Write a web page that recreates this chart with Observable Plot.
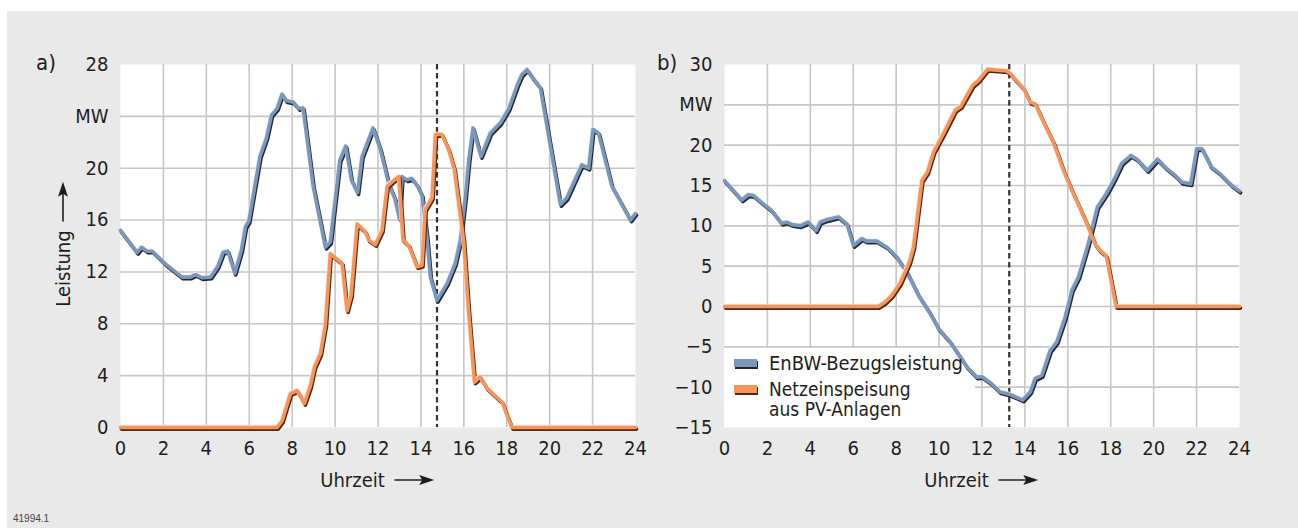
<!DOCTYPE html>
<html>
<head>
<meta charset="utf-8">
<script src="https://cdn.jsdelivr.net/npm/d3@7"></script>
<script src="https://cdn.jsdelivr.net/npm/@observablehq/plot@0.6"></script>
<style>
  html, body { margin: 0; padding: 0; }
  body { width: 1298px; height: 528px; position: relative; overflow: hidden; background: #fff;
         font-family: "Liberation Sans Narrow", "DejaVu Sans Condensed", "Roboto", sans-serif; color: #1e1e1e; }
  #bg { position: absolute; left: 7px; top: 11px; right: 0; bottom: 0; background: #e9e9e9; }
  .panel { position: absolute; top: 0; }
  .lbl { position: absolute; font-size: 20px; line-height: 20px; white-space: nowrap; }
  .axlbl { position: absolute; font-size: 20px; line-height: 20px; white-space: nowrap; display: flex; align-items: center; gap: 9px; transform: translate(-50%, -50%); }
  .sw { position: absolute; width: 23px; height: 8px; }
  .code { position: absolute; left: 13px; top: 513px; font-size: 10px; color: #444; font-family: "Liberation Sans", sans-serif; }
</style>
</head>
<body>
<div id="bg"></div>
<div id="pa" class="panel" style="left:0"></div>
<div id="pb" class="panel" style="left:649px"></div>

<div class="lbl" style="left:36px; top:52px; font-size:22px; line-height:22px;">a)</div>
<div class="lbl" style="left:657px; top:52px; font-size:22px; line-height:22px;">b)</div>

<div class="axlbl" style="left:377px; top:480px;"><span>Uhrzeit</span><svg width="40" height="12"><line x1="0" y1="6" x2="30" y2="6" stroke="#1e1e1e" stroke-width="1.6"/><path d="M25,1 L40,6 L25,11 L28,6 Z" fill="#1e1e1e"/></svg></div>
<div class="axlbl" style="left:981px; top:480px;"><span>Uhrzeit</span><svg width="40" height="12"><line x1="0" y1="6" x2="30" y2="6" stroke="#1e1e1e" stroke-width="1.6"/><path d="M25,1 L40,6 L25,11 L28,6 Z" fill="#1e1e1e"/></svg></div>
<div class="axlbl" style="left:63px; top:244px; transform: translate(-50%, -50%) rotate(-90deg);"><span>Leistung</span><svg width="40" height="12"><line x1="0" y1="6" x2="30" y2="6" stroke="#1e1e1e" stroke-width="1.6"/><path d="M25,1 L40,6 L25,11 L28,6 Z" fill="#1e1e1e"/></svg></div>

<div class="sw" style="left:734px; top:359px; background:#7d97b9; box-shadow: 1px 2px 0 #1f2838;"></div>
<div class="sw" style="left:734px; top:385px; background:#f8935a; box-shadow: 1px 2px 0 #4a2a1a;"></div>
<div class="lbl" style="left:769px; top:353px;">EnBW-Bezugsleistung</div>
<div class="lbl" style="left:769px; top:380px; font-size:19px; line-height:19px;">Netzeinspeisung</div>
<div class="lbl" style="left:769px; top:400px; font-size:19px; line-height:19px;">aus PV-Anlagen</div>

<div class="code">41994.1</div>

<script>
// ---------- data ----------
const hours = [0, 2, 4, 6, 8, 10, 12, 14, 16, 18, 20, 22, 24];

// Panel a)
const aBlueH = [0, 0.78, 0.98, 1.24, 1.48, 2.1, 2.87, 3.26, 3.5, 3.8, 4.2, 4.53, 4.78, 5.0, 5.33, 5.64, 5.83, 5.98, 6.5, 6.8, 7.04, 7.3, 7.53, 7.73, 8.05, 8.31, 8.51, 8.98, 9.55, 9.78, 10.22, 10.5, 10.76, 11.05, 11.26, 11.77, 12.12, 12.5, 12.8, 13.0, 13.12, 13.35, 13.58, 13.82, 14.05, 14.28, 14.44, 14.75, 15.22, 15.6, 15.84, 16.07, 16.23, 16.43, 16.8, 17.24, 17.71, 18.1, 18.49, 18.7, 18.95, 19.2, 19.57, 20.5, 20.8, 21.5, 21.82, 22.02, 22.28, 22.9, 23.77, 24];
const aBlueV = [15.2, 13.5, 13.9, 13.6, 13.6, 12.6, 11.6, 11.6, 11.8, 11.55, 11.6, 12.4, 13.5, 13.6, 11.9, 13.7, 15.5, 15.9, 20.9, 22.3, 24.1, 24.6, 25.7, 25.2, 25.1, 24.6, 24.65, 18.6, 13.9, 14.3, 20.6, 21.7, 19.1, 18.1, 20.9, 23.1, 21.4, 18.8, 17.6, 16.1, 19.35, 19.1, 19.2, 18.7, 17.9, 14.7, 11.6, 9.8, 11.1, 12.65, 14.45, 17.8, 20.6, 23.1, 20.9, 22.7, 23.5, 24.6, 26.4, 27.2, 27.6, 27.0, 26.2, 17.2, 17.7, 20.25, 20.0, 23.0, 22.7, 18.6, 16.0, 16.5];
const aOrangeH = [0, 7.3, 7.53, 7.92, 8.23, 8.57, 8.85, 9.04, 9.32, 9.55, 9.78, 10.33, 10.56, 10.75, 11.03, 11.41, 11.57, 11.88, 12.19, 12.43, 12.66, 12.97, 13.17, 13.43, 13.82, 14.05, 14.2, 14.52, 14.68, 14.98, 15.3, 15.56, 15.99, 16.23, 16.5, 16.75, 17.09, 17.79, 18.0, 18.24, 24];
const aOrangeV = [0, 0, 0.5, 2.6, 2.85, 1.85, 3.2, 4.65, 5.7, 7.9, 13.4, 12.65, 9.0, 10.2, 15.7, 15.1, 14.45, 14.1, 15.2, 18.6, 18.95, 19.35, 14.45, 14.05, 12.4, 12.5, 16.8, 17.7, 22.6, 22.6, 21.4, 19.9, 14.45, 8.8, 3.5, 3.9, 3.0, 1.95, 1.0, 0, 0];
const aTicks = [0, 4, 8, 12, 16, 20, 24, 28];
const aDash = [14.75];

// Panel b)
const bBlueH = [0, 0.81, 1.12, 1.35, 1.82, 2.2, 2.67, 2.9, 3.14, 3.53, 3.91, 4.27, 4.46, 4.77, 5.31, 5.7, 6.01, 6.4, 6.64, 7.1, 7.57, 8.04, 8.5, 9.05, 9.51, 9.98, 10.52, 11.3, 11.76, 12.0, 12.46, 12.85, 13.3, 13.9, 14.25, 14.48, 14.79, 15.18, 15.49, 15.88, 16.19, 16.5, 16.96, 17.38, 17.79, 18.21, 18.52, 18.94, 19.25, 19.71, 20.18, 20.61, 21.0, 21.31, 21.73, 22.01, 22.25, 22.67, 23.1, 23.64, 24];
const bBlueV = [15.6, 13.2, 13.85, 13.75, 12.7, 11.9, 10.3, 10.45, 10.15, 10.0, 10.45, 9.4, 10.45, 10.75, 11.1, 10.25, 7.55, 8.4, 8.1, 8.1, 7.35, 6.1, 4.25, 1.35, -0.5, -2.75, -4.4, -7.5, -8.75, -8.7, -9.6, -10.6, -10.9, -11.6, -10.6, -8.95, -8.55, -5.45, -4.4, -1.3, 2.0, 3.65, 7.8, 12.3, 13.95, 16.0, 17.75, 18.7, 18.2, 16.85, 18.25, 17.1, 16.25, 15.4, 15.2, 19.55, 19.55, 17.35, 16.45, 15.0, 14.3];
const bOrangeH = [0, 7.18, 7.49, 7.8, 8.19, 8.62, 8.81, 9.2, 9.46, 9.74, 10.24, 10.75, 11.02, 11.57, 11.84, 12.26, 13.15, 13.35, 13.6, 13.94, 14.25, 14.48, 14.87, 15.33, 15.8, 16.19, 16.58, 16.89, 17.27, 17.5, 17.79, 18.25, 24];
const bOrangeV = [0, 0, 0.55, 1.35, 2.9, 5.5, 7.35, 15.6, 16.65, 19.1, 21.6, 24.3, 24.8, 27.4, 28.0, 29.4, 29.2, 28.8, 28.0, 27.0, 25.3, 25.1, 22.85, 20.35, 16.85, 14.4, 12.1, 10.25, 7.75, 6.95, 6.3, 0, 0];
const bTicks = [-15, -10, -5, 0, 5, 10, 15, 20, 25, 30];
const bDash = [13.27];

const seriesNames = ["EnBW-Bezugsleistung", "Netzeinspeisung aus PV-Anlagen"];
const colors = {blue: "#7b96b8", blueDark: "#1f2838", orange: "#f8935a", orangeDark: "#4a2a1a"};

// ---------- drawing ----------
const zipPts = (H, V) => H.map((h, i) => ({h, v: V[i]}));
const fmtTick = (mw) => d => d === mw ? "MW" : (d < 0 ? "\u2212" + Math.abs(d) : String(d));

function panel({blue, orange, yDomain, yTicks, mw, dash, marginLeft, marginRight, extra = []}) {
  const yInner = yTicks.slice(1, -1);
  const xInner = hours.slice(1, -1);
  return Plot.plot({
    width: 649,
    height: 528,
    marginLeft,
    marginRight,
    marginTop: 64,
    marginBottom: 101,
    style: {background: "transparent", fontFamily: '"Liberation Sans Narrow", "DejaVu Sans Condensed", sans-serif', fontSize: "20px", color: "#1e1e1e"},
    x: {domain: [0, 24]},
    y: {domain: yDomain},
    marks: [
      Plot.frame({fill: "white", stroke: "none"}),
      Plot.gridY(yInner, {stroke: "#c6c6c6", strokeOpacity: 1, strokeWidth: 1.6}),
      Plot.gridX(xInner, {stroke: "#c6c6c6", strokeOpacity: 1, strokeWidth: 1.6}),
      ...extra,
      Plot.ruleX(dash, {stroke: "#333333", strokeWidth: 2.2, strokeDasharray: "5.5,3.5"}),
      Plot.line(blue, {x: "h", y: "v", stroke: colors.blueDark, strokeWidth: 3.6, dx: 1, dy: 1.6}),
      Plot.line(blue, {x: "h", y: "v", stroke: "#e6ecf4", strokeWidth: 3, dx: -0.8, dy: -1.2}),
      Plot.line(blue, {x: "h", y: "v", stroke: colors.blue, strokeWidth: 3.6}),
      Plot.line(orange, {x: "h", y: "v", stroke: colors.orangeDark, strokeWidth: 3.6, dx: 1, dy: 1.6}),
      Plot.line(orange, {x: "h", y: "v", stroke: "#fde6d8", strokeWidth: 3, dx: -0.8, dy: -1.2}),
      Plot.line(orange, {x: "h", y: "v", stroke: colors.orange, strokeWidth: 3.6}),
      Plot.axisY(yTicks, {tickSize: 0, tickPadding: 12, tickFormat: fmtTick(mw), fontSize: 20, label: null}),
      Plot.axisX(hours, {tickSize: 0, tickPadding: 13, tickFormat: d => String(d), fontSize: 20, label: null})
    ]
  });
}

document.getElementById("pa").appendChild(panel({
  blue: zipPts(aBlueH, aBlueV),
  orange: zipPts(aOrangeH, aOrangeV),
  yDomain: [0, 28], yTicks: aTicks, mw: 24, dash: aDash,
  marginLeft: 120, marginRight: 14
}));

const legendArea = [{x1: 0, x2: 11.7, y1: -15, y2: -5.2}];
document.getElementById("pb").appendChild(panel({
  blue: zipPts(bBlueH, bBlueV),
  orange: zipPts(bOrangeH, bOrangeV),
  yDomain: [-15, 30], yTicks: bTicks, mw: 25, dash: bDash,
  marginLeft: 75, marginRight: 59,
  extra: [Plot.rect(legendArea, {x1: "x1", x2: "x2", y1: "y1", y2: "y2", fill: "white"})]
}));
</script>
</body>
</html>
